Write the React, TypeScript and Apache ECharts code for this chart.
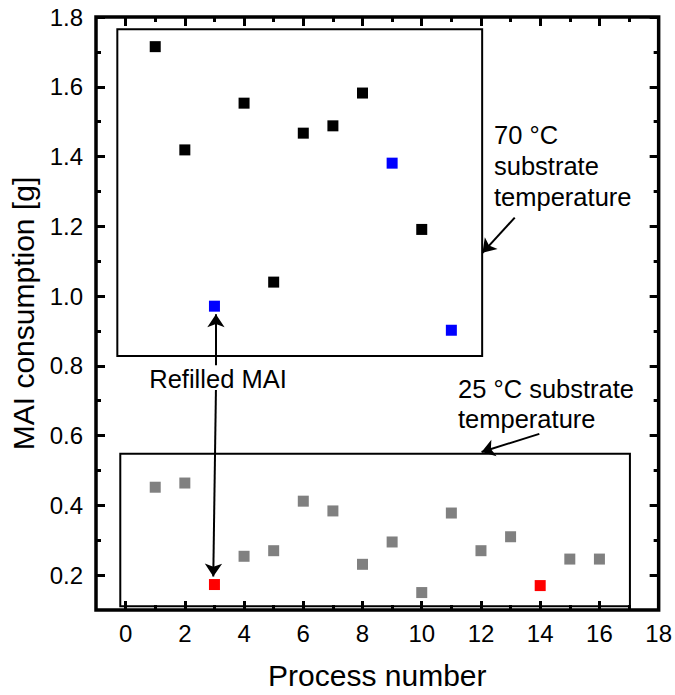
import React, { useEffect, useRef } from "react";
import * as echarts from "echarts";

const xMajor = [0, 2, 4, 6, 8, 10, 12, 14, 16, 18];
const xMinor = [1, 3, 5, 7, 9, 11, 13, 15, 17];
const yMajor = [0.2, 0.4, 0.6, 0.8, 1.0, 1.2, 1.4, 1.6, 1.8];
const yMinor = [0.3, 0.5, 0.7, 0.9, 1.1, 1.3, 1.5, 1.7];

const black70 = [[1, 1.715], [2, 1.419], [4, 1.553], [5, 1.04], [6, 1.467], [7, 1.488], [8, 1.582], [10, 1.191]];
const blue70 = [[3, 0.971], [9, 1.381], [11, 0.902]];
const gray25 = [[1, 0.452], [2, 0.464], [4, 0.254], [5, 0.27], [6, 0.412], [7, 0.384], [8, 0.231], [9, 0.295], [10, 0.15], [11, 0.378], [12, 0.27], [13, 0.31], [15, 0.246], [16, 0.246]];
const red25 = [[3, 0.173], [14, 0.17]];

const box70 = [[-0.28, 1.765], [12.04, 0.828]];
const box25 = [[-0.18, 0.548], [17.03, 0.111]];
const arrows = [
  [[13.14, 1.225], [12.05, 1.124]],
  [[13.97, 0.605], [12.02, 0.553]],
  [[3.05, 0.802], [3.05, 0.948]],
  [[3.05, 0.731], [2.96, 0.196]],
];

const FONT = "Arial, 'Liberation Sans', sans-serif";

function xAx(pos: string, values: number[], len: number, labels: boolean) {
  return {
    type: "value", position: pos, min: -1, max: 18,
    axisLine: { show: false, onZero: false }, splitLine: { show: false },
    axisTick: { show: true, inside: true, length: len, customValues: values, lineStyle: { width: 3, color: "#000" } },
    axisLabel: { show: labels, customValues: values, fontSize: 24, color: "#000", margin: 11, fontFamily: FONT },
    ...(labels ? { name: "Process number", nameLocation: "middle", nameGap: 50, nameTextStyle: { fontSize: 30, color: "#000", fontFamily: FONT } } : {}),
  };
}
function yAx(pos: string, values: number[], len: number, labels: boolean) {
  return {
    type: "value", position: pos, min: 0.1, max: 1.8,
    axisLine: { show: false, onZero: false }, splitLine: { show: false },
    axisTick: { show: true, inside: true, length: len, customValues: values, lineStyle: { width: 3, color: "#000" } },
    axisLabel: { show: labels, customValues: values, fontSize: 24, color: "#000", margin: 13, fontFamily: FONT, formatter: (v: number) => v.toFixed(1) },
    ...(labels ? { name: "MAI consumption [g]", nameLocation: "middle", nameGap: 49, nameTextStyle: { fontSize: 30, color: "#000", fontFamily: FONT } } : {}),
  };
}

export default function App() {
  const ref = useRef<HTMLDivElement>(null);
  useEffect(() => {
    const chart = echarts.init(ref.current!, null, { renderer: "svg" });
    const sq = (data: number[][], color: string, extra: any = {}) => ({
      type: "scatter", xAxisIndex: 0, yAxisIndex: 0, data, symbol: "rect", symbolSize: 11,
      itemStyle: { color, opacity: 1 }, silent: true, ...extra,
    });
    chart.setOption({
      animation: false,
      textStyle: { fontFamily: FONT },
      grid: { left: 96, top: 17, width: 565, height: 595, show: true, borderWidth: 3.5, borderColor: "#000", backgroundColor: "transparent" },
      xAxis: [xAx("bottom", xMajor, 9, true), xAx("bottom", xMinor, 5, false), xAx("top", xMajor, 9, false), xAx("top", xMinor, 5, false)],
      yAxis: [yAx("left", yMajor, 9, true), yAx("left", yMinor, 5, false), yAx("right", yMajor, 9, false), yAx("right", yMinor, 5, false)],
      series: [
        sq(gray25, "#808080", {
          markArea: {
            silent: true,
            itemStyle: { color: "rgba(0,0,0,0)", borderColor: "#000", borderWidth: 2 },
            data: [
              [{ coord: box70[0] }, { coord: box70[1] }],
              [{ coord: box25[0] }, { coord: box25[1] }],
            ],
          },
          markLine: {
            silent: true, symbol: ["none", "arrow"], symbolSize: 13,
            label: { show: false },
            lineStyle: { color: "#000", width: 2, type: "solid" },
            data: arrows.map((a) => [{ coord: a[0] }, { coord: a[1] }]),
          },
        }),
        sq(red25, "#ff0000"),
        sq(black70, "#000000"),
        sq(blue70, "#0000ff"),
      ],
      graphic: [
        { type: "text", left: 494, top: 119, style: { text: "70 °C\nsubstrate\ntemperature", fontSize: 25.5, lineHeight: 31, fill: "#000", fontFamily: FONT } },
        { type: "text", left: 458, top: 374, style: { text: "25 °C substrate\ntemperature", fontSize: 25.5, lineHeight: 30, fill: "#000", fontFamily: FONT } },
        { type: "text", x: 218, y: 379, style: { text: "Refilled MAI", fontSize: 25.5, fill: "#000", fontFamily: FONT, align: "center", verticalAlign: "middle" } },
      ],
    });
    return () => chart.dispose();
  }, []);
  return <div ref={ref} style={{ position: "fixed", left: 0, top: 0, width: 675, height: 695, background: "#fff" }} />;
}
